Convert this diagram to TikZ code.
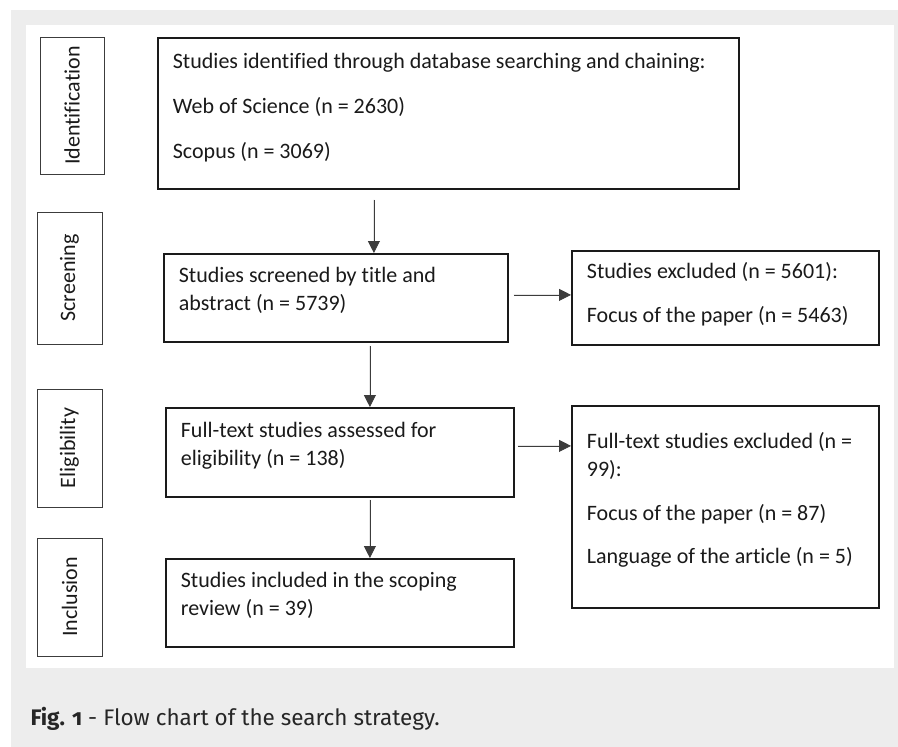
\documentclass[tikz,border=0pt]{standalone}
\usepackage{fontspec}
\usepackage{tikz}
\setmainfont{Carlito}[Ligatures = NoCommon]
\newfontfamily\captionfont[Numbers = OldStyle]{Fira Sans}
\usetikzlibrary{arrows.meta}
\usetikzlibrary{calc}
\definecolor{mgray}{HTML}{EDEDED}
\definecolor{mtext}{HTML}{1A1A1A}
\definecolor{mline}{HTML}{3C3C3C}
\definecolor{mcap}{HTML}{262626}
\tikzset{stage/.style = {draw = mline, line width = 0.8pt, rotate = 90, inner sep = 0, text = mtext, font = \fontsize{22}{26}\selectfont}}
\tikzset{flowbox/.style = {draw = mtext, line width = 1.8pt, anchor = north west, inner xsep = 15pt, inner ysep = 0, text = mtext, font = \fontsize{22}{28}\selectfont}}
\tikzset{arr/.style = {-{Triangle[length = 12pt, width = 12pt]}, line width = 0.8pt, draw = mline, fill = mline}}
\newcommand{\flowtext}[4]{\parbox[c][#2][t]{#1}{\vspace*{#3}\raggedright\strut#4}}

\begin{document}
\begin{tikzpicture}[x = 1pt, y = -1pt]
      \useasboundingbox (0, 0) rectangle (898, 747);
      \fill [mgray] (11, 10) rectangle (898, 747);
      \fill [white] (26, 25) rectangle (894, 668);

      \node [stage, minimum width = 137pt, minimum height = 64pt] (identlab) at (72, 105.5) {Identification};
      \node [stage, minimum width = 132pt, minimum height = 65pt] (screenlab) at (69.5, 278) {Screening};
      \node [stage, minimum width = 118pt, minimum height = 65pt] (eliglab) at (69.5, 448) {Eligibility};
      \node [stage, minimum width = 118pt, minimum height = 65pt] (inclab) at (69.5, 597) {Inclusion};

      \node [flowbox] (ident) at (157, 37) {\flowtext{551pt}{151pt}{11.4pt}{Studies identified through database searching and chaining:\\[17pt] Web of Science (n = 2630)\\[17pt] Scopus (n = 3069)}};
      \node [flowbox] (screen) at (163, 253) {\flowtext{314pt}{88pt}{9.4pt}{Studies screened by title and\\ abstract (n = 5739)}};
      \node [flowbox] (elig) at (165, 407) {\flowtext{318pt}{89pt}{10.4pt}{Full-text studies assessed for\\ eligibility (n = 138)}};
      \node [flowbox] (incl) at (165, 558) {\flowtext{318pt}{88pt}{9.4pt}{Studies included in the scoping\\ review (n = 39)}};
      \node [flowbox] (excl) at (571, 250) {\flowtext{277pt}{94pt}{8.4pt}{Studies excluded (n = 5601):\\[16pt] Focus of the paper (n = 5463)}};
      \node [flowbox] (fullexcl) at (571, 405) {\flowtext{277pt}{202pt}{23.4pt}{Full-text studies excluded (n =\\ 99):\\[16pt] Focus of the paper (n = 87)\\[15pt] Language of the article (n = 5)}};

      \draw [arr, shorten <= 10pt] ([xshift = 38pt]screen.north |- ident.south) -- ([xshift = 38pt]screen.north);
      \draw [arr, shorten <= 3pt] ([xshift = 30pt]elig.north |- screen.south) -- ([xshift = 30pt]elig.north);
      \draw [arr, shorten <= 2pt] ([xshift = 30pt]incl.north |- elig.south) -- ([xshift = 30pt]incl.north);
      \draw [arr, shorten <= 5pt] ([yshift = 3pt]screen.east) -- ([yshift = 3pt]screen.east -| excl.west);
      \draw [arr, shorten <= 3pt] ([yshift = 6.5pt]elig.east) -- ([yshift = 6.5pt]elig.east -| fullexcl.west);

      \node [anchor = base west, text = mcap, font = \captionfont\fontsize{22.5}{26}\selectfont] (caption) at (27, 725) {\textbf{Fig. 1} - Flow chart of the search strategy.};
\end{tikzpicture}
\end{document}
